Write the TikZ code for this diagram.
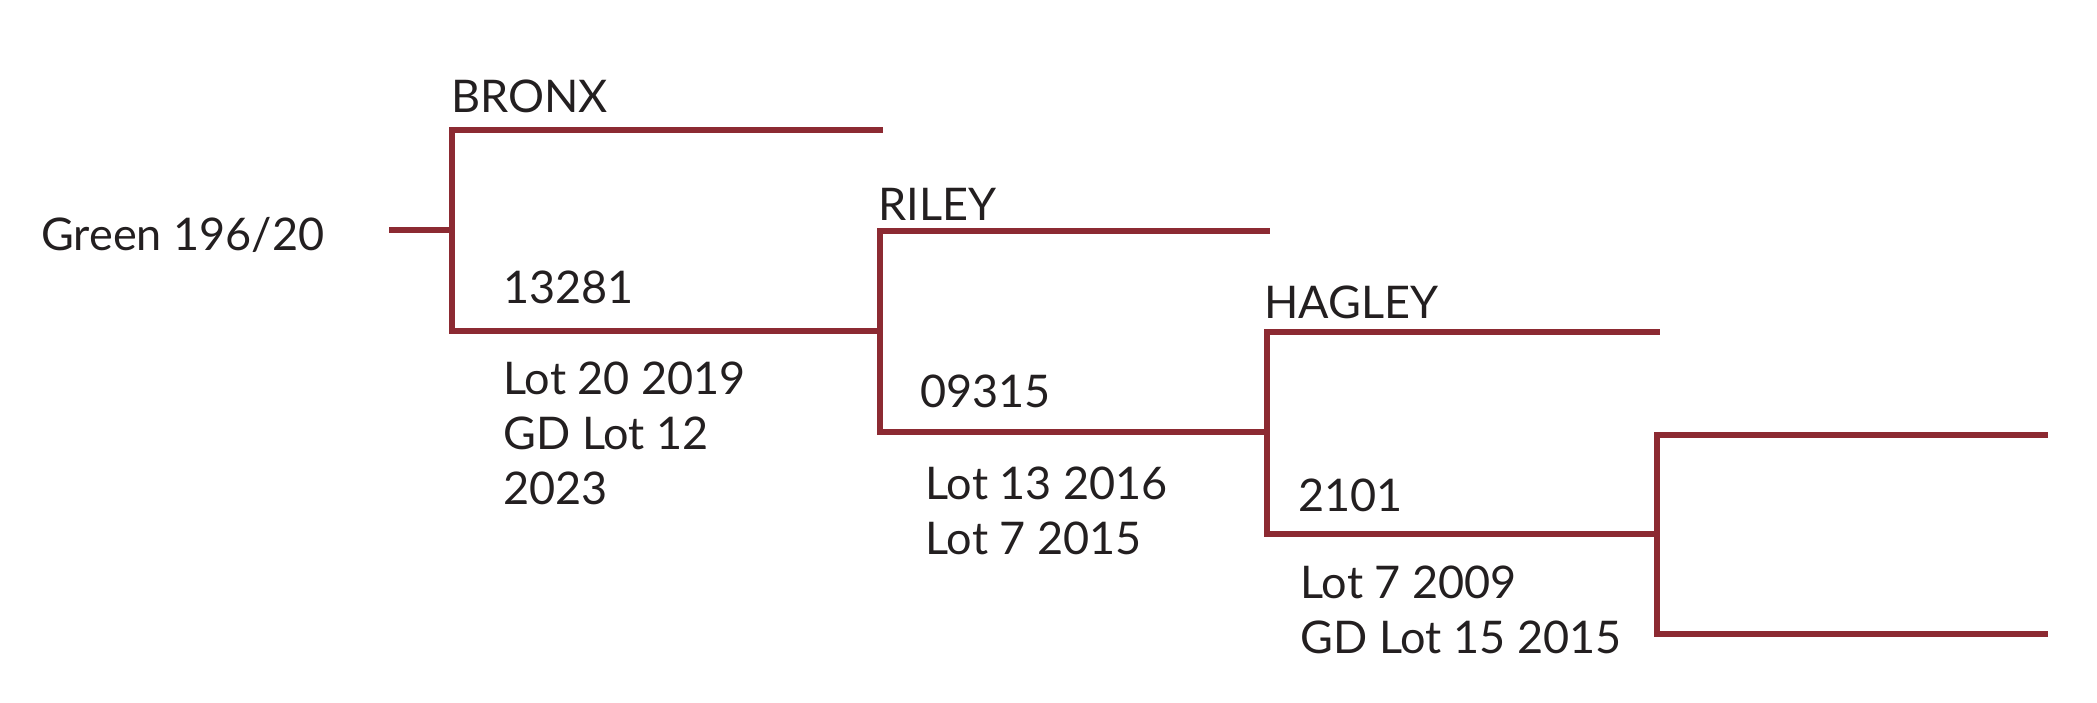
\documentclass[tikz,border=0pt]{standalone}
\usepackage{fontspec}
\setmainfont{Lato}
\usepackage{tikz}
\usetikzlibrary{positioning}
\definecolor{pedred}{HTML}{8C2A32}
\definecolor{inkdark}{HTML}{231F20}

\begin{document}
\begin{tikzpicture}[
  x=0.5pt, y=-0.5pt,
  every node/.style={font=\fontsize{22.5}{27.5}\selectfont, text=inkdark},
  pedlabel/.style={
    anchor=base west,
    inner sep=0pt,
  },
  lotlabel/.style={
    anchor=north west,
    inner sep=0pt,
    align=left,
  },
  branch/.style={
    draw=pedred,
    line width=2.7pt,
    line cap=rect,
  },
]
  \useasboundingbox (0,0) rectangle (2097,702);

  % bracket corners
  \coordinate (stub) at (392,230);
  \coordinate (sire) at (452,230);
  \coordinate (b1top) at (452,130);
  \coordinate (b1bot) at (452,331);
  \coordinate (b1end) at (880,130);
  \coordinate (s2) at (880,331);
  \coordinate (b2top) at (880,231);
  \coordinate (b2bot) at (880,432);
  \coordinate (b2end) at (1267,231);
  \coordinate (s3) at (1267,432);
  \coordinate (b3top) at (1267,332);
  \coordinate (b3bot) at (1267,534);
  \coordinate (b3end) at (1657,332);
  \coordinate (s4) at (1657,534);
  \coordinate (b4top) at (1657,435);
  \coordinate (b4bot) at (1657,634);
  \coordinate (b4end) at (2045,435);
  \coordinate (b4endb) at (2045,634);

  % labels
  \node[pedlabel] (horse) at (41,250) {Green 196/20};
  \node[pedlabel] (bronx) at (451,112) {BRONX};
  \node[pedlabel] (bronxno) at (503,303) {13281};
  \node[lotlabel] (bronxlots) at (503,361) {Lot 20 2019\\GD Lot 12\\2023};
  \node[pedlabel] (riley) at (878,220) {RILEY};
  \node[pedlabel] (rileyno) at (920,407) {09315};
  \node[lotlabel] (rileylots) at (925,466) {Lot 13 2016\\Lot 7 2015};
  \node[pedlabel] (hagley) at (1264,318) {HAGLEY};
  \node[pedlabel] (hagleyno) at (1298,511) {2101};
  \node[lotlabel] (hagleylots) at (1300,565) {Lot 7 2009\\GD Lot 15 2015};

  % tree
  \draw[branch] (stub) -- (sire);
  \draw[branch] (b1end) -- (b1top) -- (b1bot) -- (s2);
  \draw[branch] (b2end) -- (b2top) -- (b2bot) -- (s3);
  \draw[branch] (b3end) -- (b3top) -- (b3bot) -- (s4);
  \draw[branch] (b4end) -- (b4top) -- (b4bot) -- (b4endb);
\end{tikzpicture}
\end{document}
